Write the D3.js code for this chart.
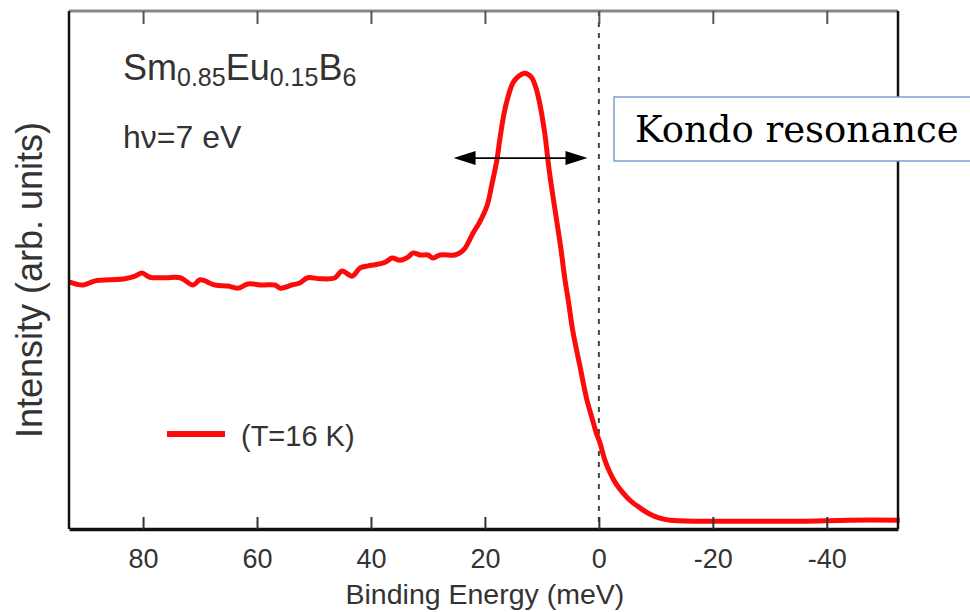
<!DOCTYPE html>
<html>
<head>
<meta charset="utf-8">
<title>Kondo resonance</title>
<script src="https://cdn.jsdelivr.net/npm/d3@7"></script>
<style>
  body { margin: 0; background: #fff; }
  text { font-family: "Liberation Sans", Arial, sans-serif; fill: #333; }
</style>
</head>
<body>
<script>
'use strict';
// binding energy (meV) and intensity (arb. units, 0-100 over the frame)
const energy = [93, 91.8, 90.5, 88.4, 85.8, 83.2, 81.4, 80.2, 78.8, 76.1, 73.5, 71.2, 70, 67.4, 65.1, 63.3,
  61.6, 59.1, 56.8, 56, 53.9, 52.5, 51.1, 48.9, 46.3, 45.1, 43.3, 41.9, 40.5, 39.3, 37.5, 36.3, 34.9, 33.5,
  32.6, 31.4, 30, 29.1, 27.9, 25.3, 24.4, 23.5, 22.1, 20.9, 19.6, 18.8, 17.9, 17.4, 16.7, 16.1, 15.1, 14.2,
  13, 11.9, 11.2, 10.5, 9.5, 8.8, 8.1, 7.4, 6.7, 6.0, 5.3, 4.6, 3.3, 2.1, 1.2, 0.5, -0.2, -1.05, -1.9, -2.8,
  -3.7, -5.4, -7.2, -8.9, -10.7, -12.5, -17.7, -26.5, -35.3, -44, -52.8];
const intensity = [47.7, 47.3, 47.1, 47.9, 48.1, 48.3, 48.8, 49.4, 48.6, 48.5, 48.5, 47.1, 48.1, 47.1, 46.9, 46.5,
  47.3, 47.1, 47.1, 46.5, 47.1, 47.5, 48.5, 48.3, 48.5, 49.8, 48.8, 50.4, 50.8, 51, 51.5, 52.3, 51.9, 52.5,
  53.3, 52.9, 52.9, 52.3, 52.9, 52.9, 53.3, 54.2, 57.1, 59.3, 62.5, 66.4, 71.2, 75.1, 79.9, 82.8, 86.1, 87.3,
  88, 87.3, 85.7, 82.8, 76.4, 69.9, 64.5, 59.5, 54.4, 48.5, 43.6, 38.4, 31.3, 24.9, 21.4, 18.7, 16.6, 13.3, 11, 9.1,
  7.7, 5.6, 4.1, 2.9, 2.1, 1.7, 1.5, 1.5, 1.5, 1.7, 1.7];
const xTicks = [80, 60, 40, 20, 0, -20, -40];
const arrowFrom = 25.5, arrowTo = 2, arrowLevel = 71.6;   // width of the peak
const seriesLabel = '(T=16 K)';

const W = 970, H = 612;
const margin = {top: 11, right: 72, bottom: 83, left: 69};

const svg = d3.select('body').append('svg')
  .attr('width', W).attr('height', H);

const x = d3.scaleLinear().domain([93, -52.5]).range([margin.left, W - margin.right]);
const y = d3.scaleLinear().domain([0, 100]).range([H - margin.bottom, margin.top]);

// Fermi level
svg.append('line')
  .attr('x1', x(0)).attr('x2', x(0))
  .attr('y1', y(100)).attr('y2', y(0))
  .attr('stroke', '#444').attr('stroke-width', 2)
  .attr('stroke-dasharray', '5,6');

// spectrum
const pts = energy.map((e, i) => [e, intensity[i]]);
const line = d3.line().x(d => x(d[0])).y(d => y(d[1])).curve(d3.curveCatmullRom.alpha(0.5));
svg.append('path')
  .datum(pts)
  .attr('d', line)
  .attr('fill', 'none')
  .attr('stroke', '#ff0a0a')
  .attr('stroke-width', 5)
  .attr('stroke-linejoin', 'round');

// frame: top grey, others black
svg.append('line').attr('x1', x.range()[0]).attr('x2', x.range()[1])
  .attr('y1', y(100)).attr('y2', y(100)).attr('stroke', '#888').attr('stroke-width', 3);
svg.append('line').attr('x1', x.range()[0]).attr('x2', x.range()[0])
  .attr('y1', y(100)).attr('y2', y(0)).attr('stroke', '#111').attr('stroke-width', 2.5);
svg.append('line').attr('x1', x.range()[1]).attr('x2', x.range()[1])
  .attr('y1', y(100)).attr('y2', y(0)).attr('stroke', '#111').attr('stroke-width', 2.5);

const xAxis = svg.append('g')
  .attr('transform', `translate(0,${y(0)})`)
  .call(d3.axisBottom(x).tickValues(xTicks).tickSizeInner(-12).tickSizeOuter(0).tickPadding(20)
    .tickFormat(d => String(d)));
xAxis.select('.domain').attr('stroke', '#111').attr('stroke-width', 3.5);
xAxis.selectAll('.tick line').attr('stroke', '#333').attr('stroke-width', 2);
xAxis.selectAll('.tick text')
  .attr('font-family', '"Liberation Sans", Arial, sans-serif')
  .attr('font-size', 27).attr('fill', '#333');

const xTop = svg.append('g')
  .attr('transform', `translate(0,${y(100)})`)
  .call(d3.axisTop(x).tickValues(xTicks).tickSizeInner(-13).tickSizeOuter(0).tickFormat(''));
xTop.select('.domain').remove();
xTop.selectAll('.tick line').attr('stroke', '#555').attr('stroke-width', 2);

// axis titles
svg.append('text')
  .attr('x', x(20)).attr('y', 604)
  .attr('text-anchor', 'middle').attr('font-size', 28.5)
  .text('Binding Energy (meV)');
svg.append('text')
  .attr('transform', `translate(42,${(y(0) + y(100)) / 2 + 10}) rotate(-90)`)
  .attr('text-anchor', 'middle').attr('font-size', 36)
  .text('Intensity (arb. units)');

// sample and photon energy
const title = svg.append('text').attr('x', 123).attr('y', 80).attr('font-size', 36);
[['Sm', false], ['0.85', true], ['Eu', false], ['0.15', true], ['B', false], ['6', true]].forEach(([t, sub]) => {
  title.append('tspan')
    .attr('font-size', sub ? 25 : 36)
    .attr('dy', sub ? 6 : -6)
    .text(t);
});
title.select('tspan').attr('dy', 0);
svg.append('text').attr('x', 123).attr('y', 148).attr('font-size', 32).text('hν=7 eV');

// legend
svg.append('line')
  .attr('x1', 167).attr('x2', 225).attr('y1', 434).attr('y2', 434)
  .attr('stroke', '#ff0a0a').attr('stroke-width', 6);
svg.append('text').attr('x', 241).attr('y', 446).attr('font-size', 29).text(seriesLabel);

// double arrow
const ay = y(arrowLevel);
const ax1 = x(arrowFrom), ax2 = x(arrowTo);
svg.append('line').attr('x1', ax1 + 10).attr('x2', ax2 - 10).attr('y1', ay).attr('y2', ay)
  .attr('stroke', '#000').attr('stroke-width', 1.8);
svg.append('path')
  .attr('d', `M${ax1},${ay}L${ax1 + 22},${ay - 7}L${ax1 + 22},${ay + 7}Z`)
  .attr('fill', '#000');
svg.append('path')
  .attr('d', `M${ax2},${ay}L${ax2 - 22},${ay - 7}L${ax2 - 22},${ay + 7}Z`)
  .attr('fill', '#000');

// annotation box
svg.append('rect')
  .attr('x', 614).attr('y', 97).attr('width', 370).attr('height', 64)
  .attr('fill', '#fff').attr('stroke', '#7f9ccb').attr('stroke-width', 1.5);
svg.append('text')
  .attr('x', 635).attr('y', 142)
  .style('font-family', '"DejaVu Serif", serif').style('fill', '#000')
  .attr('font-size', 37)
  .text('Kondo resonance');
</script>
</body>
</html>
